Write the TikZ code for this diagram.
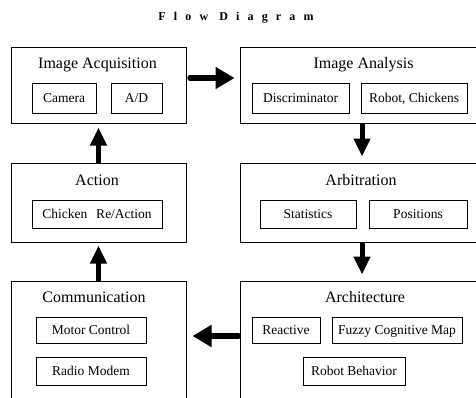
\documentclass[tikz,border=0pt]{standalone}
\usepackage{fontspec}
\setmainfont{Liberation Serif}
\usetikzlibrary{arrows.meta}

\begin{document}
\begin{tikzpicture}[x=1pt, y=-1pt,
    stage/.style={draw, line width=1pt, inner sep=0pt},
    part/.style={draw, line width=0.9pt, inner sep=0pt, text height=10pt, text depth=2pt, font=\fontsize{13.5}{15}\selectfont},
    caption/.style={anchor=base, font=\fontsize{16}{18}\selectfont},
    flowh/.style={line width=5.5pt, line cap=round, -{Triangle[length=19pt, width=21pt]}},
    flowv/.style={line width=5pt, -{Triangle[length=18pt, width=16pt]}}]
  \clip (0,0) rectangle (476,397);

  \node[anchor=base, font=\bfseries\fontsize{12}{14}\selectfont\addfontfeature{LetterSpace=68}] (title) at (236,20) {Flow Diagram};

  % the six stages
  \node[stage, minimum width=175pt, minimum height=76pt] (acq) at (98.5,85) {};
  \node[stage, minimum width=244pt, minimum height=76pt] (ana) at (362,85) {};
  \node[stage, minimum width=175pt, minimum height=79pt] (act) at (98.5,202.5) {};
  \node[stage, minimum width=244pt, minimum height=79pt] (arb) at (362,202.5) {};
  \node[stage, minimum width=175pt, minimum height=120pt] (com) at (98.5,341) {};
  \node[stage, minimum width=244pt, minimum height=120pt] (arch) at (362,341) {};

  \node[caption] (acqname) at (97.5,68) {Image Acquisition};
  \node[caption] (ananame) at (363.5,68) {Image Analysis};
  \node[caption] (actname) at (97,185) {Action};
  \node[caption] (arbname) at (361,185) {Arbitration};
  \node[caption] (comname) at (94,302) {Communication};
  \node[caption] (archname) at (365,302) {Architecture};

  % parts inside the stages
  \node[part, minimum width=64pt, minimum height=30pt] (camera) at (64,98) {Camera};
  \node[part, minimum width=51pt, minimum height=30pt] (ad) at (136.5,98) {A/D};
  \node[part, minimum width=97pt, minimum height=30pt] (discr) at (300.5,98) {Discriminator};
  \node[part, minimum width=106pt, minimum height=30pt] (robchick) at (414,98) {Robot, Chickens};
  \node[part, minimum width=130pt, minimum height=28pt] (reaction) at (97,214) {Chicken\hspace{9pt}Re/Action};
  \node[part, minimum width=96pt, minimum height=28pt] (stats) at (308,214) {Statistics};
  \node[part, minimum width=98pt, minimum height=28pt] (pos) at (418,214) {Positions};
  \node[part, minimum width=110pt, minimum height=26pt] (motor) at (91,330) {Motor Control};
  \node[part, minimum width=110pt, minimum height=28pt] (radio) at (91,371) {Radio Modem};
  \node[part, minimum width=68pt, minimum height=26pt] (reactive) at (286,330) {Reactive};
  \node[part, minimum width=130pt, minimum height=26pt] (fcm) at (397,330) {Fuzzy Cognitive Map};
  \node[part, minimum width=102pt, minimum height=28pt] (behav) at (354,371) {Robot Behavior};

  % flow between stages
  \draw[flowh, shorten <=3.5pt, shorten >=5pt] ([yshift=7pt]acq.east) -- ([yshift=7pt]ana.west);
  \draw[flowv, shorten >=6pt] (ana.south) -- (arb.north);
  \draw[flowv, shorten >=6pt] (arb.south) -- (arch.north);
  \draw[flowh, shorten <=1pt, shorten >=6pt] ([yshift=5pt]arch.west) -- ([yshift=5pt]com.east);
  \draw[flowv, shorten >=3pt] (com.north) -- (act.south);
  \draw[flowv, shorten >=4pt] (act.north) -- (acq.south);
\end{tikzpicture}
\end{document}
